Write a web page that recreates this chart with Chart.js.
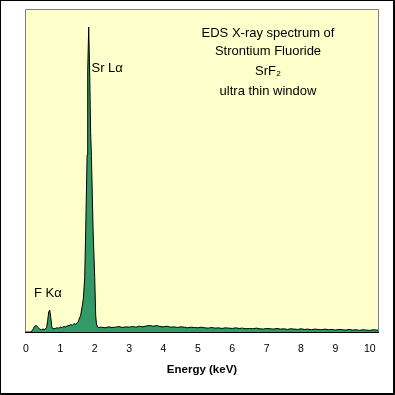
<!DOCTYPE html>
<html>
<head>
<meta charset="utf-8">
<script src="https://cdn.jsdelivr.net/npm/chart.js@4"></script>
<style>
  html, body { margin: 0; padding: 0; background: #fff; }
  canvas { display: block; }
</style>
</head>
<body>
<canvas id="c" width="395" height="395"></canvas>
<script>
// ---- data ----
const energy = [
  0.00, 0.15, 0.20, 0.25, 0.30, 0.35, 0.40, 0.45, 0.50, 0.55,
  0.60, 0.63, 0.66, 0.69, 0.72, 0.75, 0.78, 0.85, 0.90, 0.95,
  1.00, 1.05, 1.10, 1.15, 1.20, 1.25, 1.30, 1.35, 1.40, 1.45,
  1.50, 1.53, 1.56, 1.59, 1.633, 1.67, 1.708, 1.737, 1.760, 1.778,
  1.795, 1.824, 1.855, 1.880, 1.903, 1.952, 1.999, 2.028, 2.05, 2.077,
  2.1, 2.2, 2.3, 2.4, 2.5, 2.6, 2.7, 2.8, 2.9, 3.0,
  3.1, 3.2, 3.3, 3.4, 3.5, 3.6, 3.7, 3.8, 3.9, 4.0,
  4.1, 4.2, 4.3, 4.4, 4.5, 4.6, 4.7, 4.8, 4.9, 5.0,
  5.1, 5.2, 5.3, 5.4, 5.5, 5.6, 5.7, 5.8, 5.9, 6.0,
  6.1, 6.2, 6.3, 6.4, 6.5, 6.6, 6.7, 6.8, 6.9, 7.0,
  7.1, 7.2, 7.3, 7.4, 7.5, 7.6, 7.7, 7.8, 7.9, 8.0,
  8.1, 8.2, 8.3, 8.4, 8.5, 8.6, 8.7, 8.8, 8.9, 9.0,
  9.1, 9.2, 9.3, 9.4, 9.5, 9.6, 9.7, 9.8, 9.9, 10.0,
  10.1, 10.2, 10.24
];
const counts = [
  0.0, 0.0, 0.8, 1.8, 2.0, 1.4, 0.9, 0.7, 0.9, 0.8,
  1.4, 3.5, 6.2, 6.8, 4.5, 1.6, 1.0, 1.1, 1.3, 1.2,
  1.5, 1.4, 1.7, 1.6, 1.9, 2.0, 2.3, 2.1, 2.6, 2.4,
  2.9, 3.5, 4.4, 5.2, 7.8, 10.5, 17.0, 31.6, 45.0, 55.0,
  81.0, 94.7, 79.0, 62.0, 54.8, 31.6, 17.0, 5.0, 2.5, 1.6,
  1.4, 1.5, 1.3, 1.6, 1.4, 1.5, 1.7, 1.4, 1.6, 1.5,
  1.7, 1.5, 1.8, 1.6, 1.9, 2.0, 1.8, 2.0, 1.7, 1.6,
  1.8, 1.5, 1.6, 1.4, 1.6, 1.5, 1.3, 1.5, 1.4, 1.3,
  1.5, 1.3, 1.2, 1.4, 1.2, 1.3, 1.1, 1.3, 1.2, 1.1,
  1.3, 1.1, 1.2, 1.0, 1.1, 1.0, 1.2, 1.0, 0.9, 1.1,
  1.0, 0.9, 1.1, 0.9, 1.0, 0.8, 1.0, 0.9, 0.8, 1.0,
  0.8, 0.9, 0.7, 0.9, 0.8, 0.7, 0.9, 0.7, 0.8, 0.6,
  0.8, 0.7, 0.6, 0.8, 0.6, 0.7, 0.5, 0.7, 0.6, 0.5,
  0.7, 0.6, 0.6
];
const tickValues = [0, 1, 2, 3, 4, 5, 6, 7, 8, 9, 10];
const axisTitle = 'Energy (keV)';
const titleLines = ['EDS X-ray spectrum of', 'Strontium Fluoride', 'SrF\u2082', 'ultra thin window'];
const peakLabels = ['Sr L\u03B1', 'F K\u03B1'];

// ---- chart ----
const FONT = '"Liberation Sans", Arial, sans-serif';

const decor = {
  id: 'decor',
  beforeDatasetsDraw(chart) {
    const { ctx, chartArea: a } = chart;
    ctx.save();
    ctx.fillStyle = '#FFFFCC';
    ctx.fillRect(a.left, a.top, a.right - a.left, a.bottom - a.top);
    ctx.restore();
  },
  afterDatasetsDraw(chart) {
    const { ctx, chartArea: a } = chart;
    ctx.save();
    // plot frame: grey top/left/right, black bottom axis
    ctx.lineWidth = 1;
    ctx.strokeStyle = '#808080';
    ctx.beginPath();
    ctx.moveTo(a.left - 0.5, a.bottom);
    ctx.lineTo(a.left - 0.5, a.top - 0.5);
    ctx.lineTo(a.right + 0.5, a.top - 0.5);
    ctx.lineTo(a.right + 0.5, a.bottom);
    ctx.stroke();
    ctx.strokeStyle = '#000';
    ctx.beginPath();
    ctx.moveTo(a.left - 1, a.bottom + 0.5);
    ctx.lineTo(a.right + 1, a.bottom + 0.5);
    ctx.stroke();

    // annotation text
    ctx.fillStyle = '#000';
    ctx.font = '13px ' + FONT;
    ctx.textAlign = 'center';
    ctx.textBaseline = 'alphabetic';
    const cx = 268;
    const baselines = [37, 55, 75, 95];
    titleLines.forEach((t, i) => ctx.fillText(t, cx, baselines[i]));

    ctx.textAlign = 'left';
    ctx.fillText(peakLabels[0], 91.5, 72);
    ctx.fillText(peakLabels[1], 34, 297);

    // outer frame
    ctx.lineWidth = 2;
    ctx.strokeStyle = '#000';
    ctx.strokeRect(0, 0, 394, 394);
    ctx.restore();
  }
};

new Chart(document.getElementById('c'), {
  type: 'line',
  data: {
    datasets: [{
      data: energy.map((e, i) => ({ x: e, y: counts[i] })),
      borderColor: '#000',
      borderWidth: 1,
      backgroundColor: '#339966',
      fill: 'origin',
      pointRadius: 0,
      tension: 0
    }]
  },
  options: {
    responsive: false,
    animation: false,
    devicePixelRatio: 1,
    layout: { padding: { left: 26, top: 10, right: 17, bottom: 0 } },
    plugins: { legend: { display: false }, tooltip: { enabled: false } },
    scales: {
      x: {
        type: 'linear',
        min: 0,
        max: 10.24,
        afterBuildTicks: (s) => { s.ticks = tickValues.map(v => ({ value: v })); },
        afterFit: (s) => { s.height = 63; },
        grid: { display: false, drawTicks: false },
        border: { display: false },
        ticks: {
          color: '#000',
          font: { family: FONT, size: 10.5 },
          padding: 11,
          maxRotation: 0,
          autoSkip: false
        },
        title: {
          display: true,
          text: axisTitle,
          color: '#000',
          font: { family: FONT, size: 11.5, weight: 'bold' },
          padding: { top: 0, bottom: 18 }
        }
      },
      y: {
        display: false,
        min: 0,
        max: 100
      }
    }
  },
  plugins: [decor]
});
</script>
</body>
</html>
